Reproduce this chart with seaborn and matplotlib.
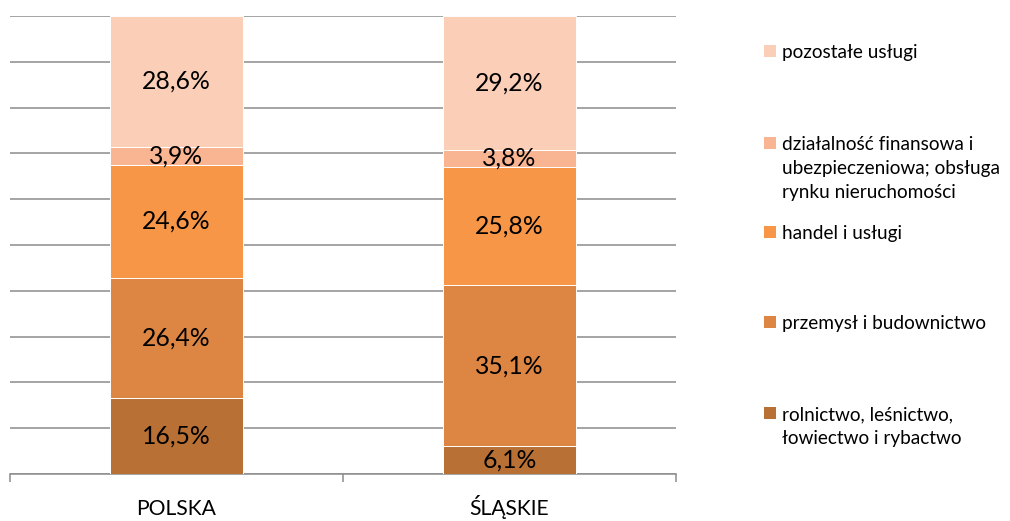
import matplotlib
matplotlib.use("Agg")
import matplotlib.pyplot as plt
import seaborn as sns
import pandas as pd
import numpy as np
from matplotlib.patches import Rectangle

categories = ["POLSKA", "ŚLĄSKIE"]
series_names = [
    "rolnictwo, leśnictwo,\nłowiectwo i rybactwo",
    "przemysł i budownictwo",
    "handel i usługi",
    "działalność finansowa i\nubezpieczeniowa; obsługa\nrynku nieruchomości",
    "pozostałe usługi",
]
rolnictwo = [16.5, 6.1]
przemysl = [26.4, 35.1]
handel = [24.6, 25.8]
finanse = [3.9, 3.8]
pozostale = [28.6, 29.2]
colors = ["#B87035", "#DD8543", "#F79646", "#F9B491", "#FBCEB8"]

values = [rolnictwo, przemysl, handel, finanse, pozostale]

sns.set_theme(style="white")
plt.rcParams["font.family"] = ["Lato", "DejaVu Sans"]

W, H = 1010, 521
fig = plt.figure(figsize=(W / 100, H / 100), dpi=100)
ax = fig.add_axes([10 / W, 1 - 474 / H, (676 - 10) / W, (474 - 16) / H])

bottom = np.zeros(len(categories))
for name, vals, col in zip(series_names, values, colors):
    df = pd.DataFrame({"cat": categories, "val": vals})
    sns.barplot(data=df, x="cat", y="val", color=col, width=0.4, bottom=bottom,
                ax=ax, edgecolor="white", linewidth=0.7, saturation=1, zorder=3,
                errorbar=None)
    for i, v in enumerate(vals):
        ax.text(i, bottom[i] + v / 2, f"{v:.1f}%".replace(".", ","),
                ha="center", va="center", fontsize=17.8, color="black", zorder=4)
    bottom = bottom + np.array(vals)

ax.set_xlim(-0.5, 1.5)
ax.set_ylim(0, 100)
ax.set_yticks(np.arange(0, 101, 10))
ax.set_yticklabels([])
ax.tick_params(axis="y", length=0)
ax.grid(axis="y", color="#8C8C8C", linewidth=1.1, zorder=0)
ax.set_axisbelow(True)
for s in ["top", "right", "left"]:
    ax.spines[s].set_visible(False)
ax.spines["bottom"].set_color("#8C8C8C")
ax.spines["bottom"].set_linewidth(1.1)
ax.set_xlabel("")
ax.set_ylabel("")
ax.set_xticks([0, 1])
ax.set_xticklabels(categories, fontsize=15.2, color="black", va="baseline")
ax.tick_params(axis="x", which="major", length=0, pad=29.5)
ax.set_xticks([-0.5, 0.5, 1.5], minor=True)
ax.tick_params(axis="x", which="minor", length=6, width=1.1, color="#8C8C8C",
               direction="out", bottom=True)

# legend (manual placement); y = baseline of first line in pixels
legend_entries = [
    (series_names[4], colors[4], 58),
    (series_names[3], colors[3], 150),
    (series_names[2], colors[2], 239),
    (series_names[1], colors[1], 329),
    (series_names[0], colors[0], 420),
]
line_gap = 24
for label, col, yb in legend_entries:
    fig.patches.append(Rectangle((764 / W, 1 - (yb - 1) / H), 12 / W, 12 / H,
                                 transform=fig.transFigure, facecolor=col,
                                 edgecolor="none"))
    for k, line in enumerate(label.split("\n")):
        fig.text(782 / W, 1 - (yb + k * line_gap) / H, line, ha="left",
                 va="baseline", fontsize=13.7, color="black")

fig.savefig("out.png", dpi=100)
